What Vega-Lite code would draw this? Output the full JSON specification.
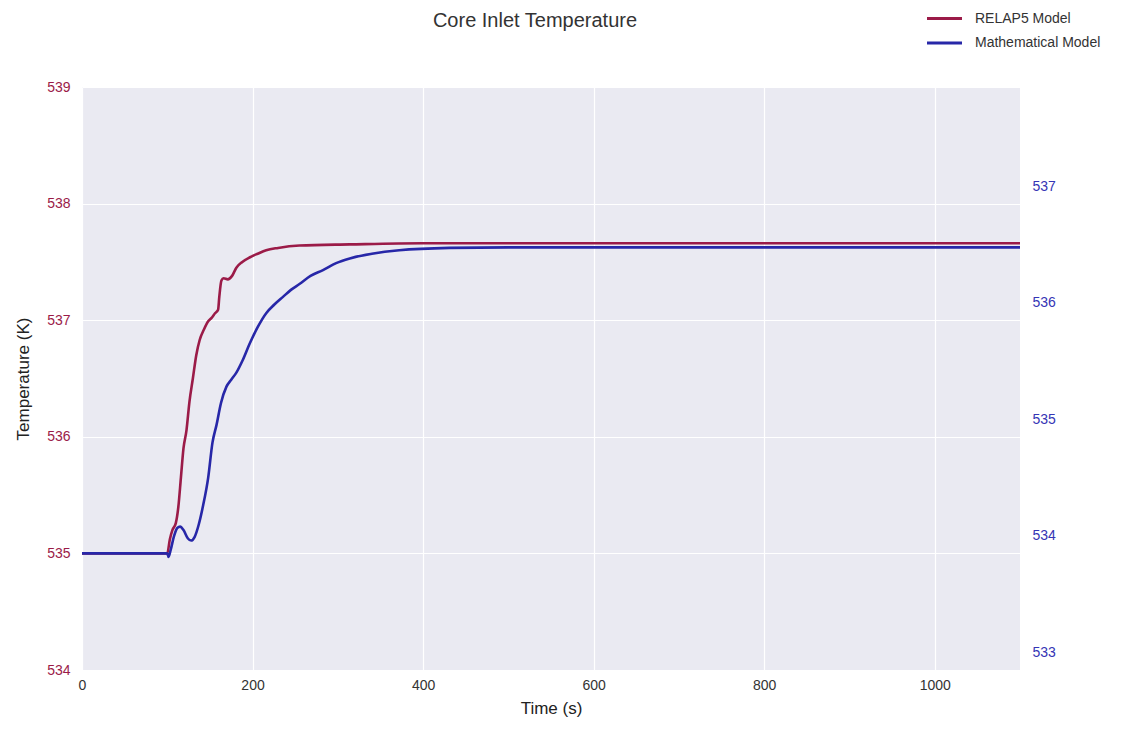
{
  "$schema": "https://vega.github.io/schema/vega-lite/v6.json",
  "width": 938,
  "height": 583,
  "autosize": "none",
  "padding": {"left": 82, "top": 87, "right": 111, "bottom": 59},
  "background": "white",
  "config": {
    "font": "Liberation Sans",
    "view": {"fill": "#eaeaf2", "stroke": null},
    "axis": {"domain": false, "ticks": false, "gridColor": "white", "gridWidth": 1.2, "labelFontSize": 14, "titleFontSize": 17, "titleFontWeight": "normal", "titleColor": "#222", "labelColor": "#333"}
  },
  "title": {"text": "Core Inlet Temperature", "fontSize": 20, "fontWeight": "normal", "color": "#333", "anchor": "middle", "dx": -16, "offset": -43, "baseline": "bottom"},
  "datasets": {
    "relap": [
      {"t": 0, "series": "RELAP5 Model", "v": 535},
      {"t": 100, "series": "RELAP5 Model", "v": 535},
      {"t": 103, "series": "RELAP5 Model", "v": 535.12},
      {"t": 106, "series": "RELAP5 Model", "v": 535.2},
      {"t": 110, "series": "RELAP5 Model", "v": 535.26},
      {"t": 113, "series": "RELAP5 Model", "v": 535.4},
      {"t": 116, "series": "RELAP5 Model", "v": 535.65},
      {"t": 119, "series": "RELAP5 Model", "v": 535.9},
      {"t": 122.6, "series": "RELAP5 Model", "v": 536.06},
      {"t": 126, "series": "RELAP5 Model", "v": 536.3},
      {"t": 130, "series": "RELAP5 Model", "v": 536.5},
      {"t": 134, "series": "RELAP5 Model", "v": 536.7},
      {"t": 138, "series": "RELAP5 Model", "v": 536.83},
      {"t": 143, "series": "RELAP5 Model", "v": 536.92},
      {"t": 148, "series": "RELAP5 Model", "v": 536.99},
      {"t": 152, "series": "RELAP5 Model", "v": 537.02},
      {"t": 156, "series": "RELAP5 Model", "v": 537.06},
      {"t": 159.6, "series": "RELAP5 Model", "v": 537.09},
      {"t": 161, "series": "RELAP5 Model", "v": 537.2},
      {"t": 163.5, "series": "RELAP5 Model", "v": 537.34},
      {"t": 166, "series": "RELAP5 Model", "v": 537.36},
      {"t": 171, "series": "RELAP5 Model", "v": 537.35},
      {"t": 176, "series": "RELAP5 Model", "v": 537.38},
      {"t": 181, "series": "RELAP5 Model", "v": 537.45},
      {"t": 188, "series": "RELAP5 Model", "v": 537.5},
      {"t": 197, "series": "RELAP5 Model", "v": 537.54},
      {"t": 206, "series": "RELAP5 Model", "v": 537.57},
      {"t": 216, "series": "RELAP5 Model", "v": 537.6},
      {"t": 230, "series": "RELAP5 Model", "v": 537.62},
      {"t": 255, "series": "RELAP5 Model", "v": 537.64},
      {"t": 314, "series": "RELAP5 Model", "v": 537.65},
      {"t": 400, "series": "RELAP5 Model", "v": 537.66},
      {"t": 1100, "series": "RELAP5 Model", "v": 537.66}
    ],
    "math": [
      {"t": 0, "series": "Mathematical Model", "v": 533.85},
      {"t": 100, "series": "Mathematical Model", "v": 533.85},
      {"t": 101.5, "series": "Mathematical Model", "v": 533.82},
      {"t": 104, "series": "Mathematical Model", "v": 533.88},
      {"t": 108, "series": "Mathematical Model", "v": 534.0},
      {"t": 112, "series": "Mathematical Model", "v": 534.07},
      {"t": 115, "series": "Mathematical Model", "v": 534.08},
      {"t": 119, "series": "Mathematical Model", "v": 534.05},
      {"t": 124, "series": "Mathematical Model", "v": 533.98},
      {"t": 128, "series": "Mathematical Model", "v": 533.96},
      {"t": 132, "series": "Mathematical Model", "v": 533.99},
      {"t": 137, "series": "Mathematical Model", "v": 534.1},
      {"t": 142, "series": "Mathematical Model", "v": 534.26},
      {"t": 148, "series": "Mathematical Model", "v": 534.5},
      {"t": 153, "series": "Mathematical Model", "v": 534.8},
      {"t": 157.7, "series": "Mathematical Model", "v": 534.95},
      {"t": 163, "series": "Mathematical Model", "v": 535.14},
      {"t": 169.4, "series": "Mathematical Model", "v": 535.28},
      {"t": 175, "series": "Mathematical Model", "v": 535.34},
      {"t": 181, "series": "Mathematical Model", "v": 535.4},
      {"t": 188, "series": "Mathematical Model", "v": 535.5},
      {"t": 196.7, "series": "Mathematical Model", "v": 535.65},
      {"t": 206, "series": "Mathematical Model", "v": 535.79},
      {"t": 216, "series": "Mathematical Model", "v": 535.91},
      {"t": 225, "series": "Mathematical Model", "v": 535.98},
      {"t": 235.7, "series": "Mathematical Model", "v": 536.05},
      {"t": 245, "series": "Mathematical Model", "v": 536.11},
      {"t": 255, "series": "Mathematical Model", "v": 536.16},
      {"t": 268, "series": "Mathematical Model", "v": 536.23},
      {"t": 282.6, "series": "Mathematical Model", "v": 536.28},
      {"t": 298, "series": "Mathematical Model", "v": 536.34},
      {"t": 314, "series": "Mathematical Model", "v": 536.38},
      {"t": 340, "series": "Mathematical Model", "v": 536.42},
      {"t": 372, "series": "Mathematical Model", "v": 536.45},
      {"t": 431, "series": "Mathematical Model", "v": 536.47},
      {"t": 500, "series": "Mathematical Model", "v": 536.475},
      {"t": 1100, "series": "Mathematical Model", "v": 536.475}
    ]
  },
  "layer": [
    {
      "data": {"name": "relap"},
      "mark": {"type": "line", "strokeWidth": 2.6, "clip": true, "interpolate": "monotone"},
      "encoding": {
        "x": {"field": "t", "type": "quantitative", "scale": {"domain": [0, 1100], "nice": false, "zero": false}, "axis": {"title": "Time (s)", "values": [0, 200, 400, 600, 800, 1000], "format": "d", "labelFlush": false, "labelPadding": 8, "titlePadding": 8, "grid": true}},
        "y": {"field": "v", "type": "quantitative", "scale": {"domain": [534, 539], "nice": false, "zero": false}, "axis": {"title": "Temperature (K)", "values": [534, 535, 536, 537, 538, 539], "labelColor": "#9b1b48", "labelPadding": 12, "titlePadding": 14, "format": "d"}},
        "color": {"field": "series", "type": "nominal", "scale": {"domain": ["RELAP5 Model", "Mathematical Model"], "range": ["#9b1b48", "#2727a8"]}, "legend": {"title": null, "orient": "none", "legendX": 852, "legendY": -79, "symbolType": "M-2,0H2", "symbolSize": 306, "symbolStrokeWidth": 3, "labelFontSize": 14, "labelColor": "#333", "labelOffset": 20, "rowPadding": 6.5, "padding": 0}}
      }
    },
    {
      "data": {"name": "math"},
      "mark": {"type": "line", "strokeWidth": 2.6, "clip": true, "interpolate": "monotone"},
      "encoding": {
        "x": {"field": "t", "type": "quantitative"},
        "y": {"field": "v", "type": "quantitative", "scale": {"domain": [532.85, 537.85], "nice": false, "zero": false}, "axis": {"orient": "right", "title": null, "grid": false, "values": [533, 534, 535, 536, 537], "labelColor": "#3535b5", "labelPadding": 12, "format": "d"}},
        "color": {"field": "series", "type": "nominal"}
      }
    }
  ],
  "resolve": {"scale": {"y": "independent"}}
}
